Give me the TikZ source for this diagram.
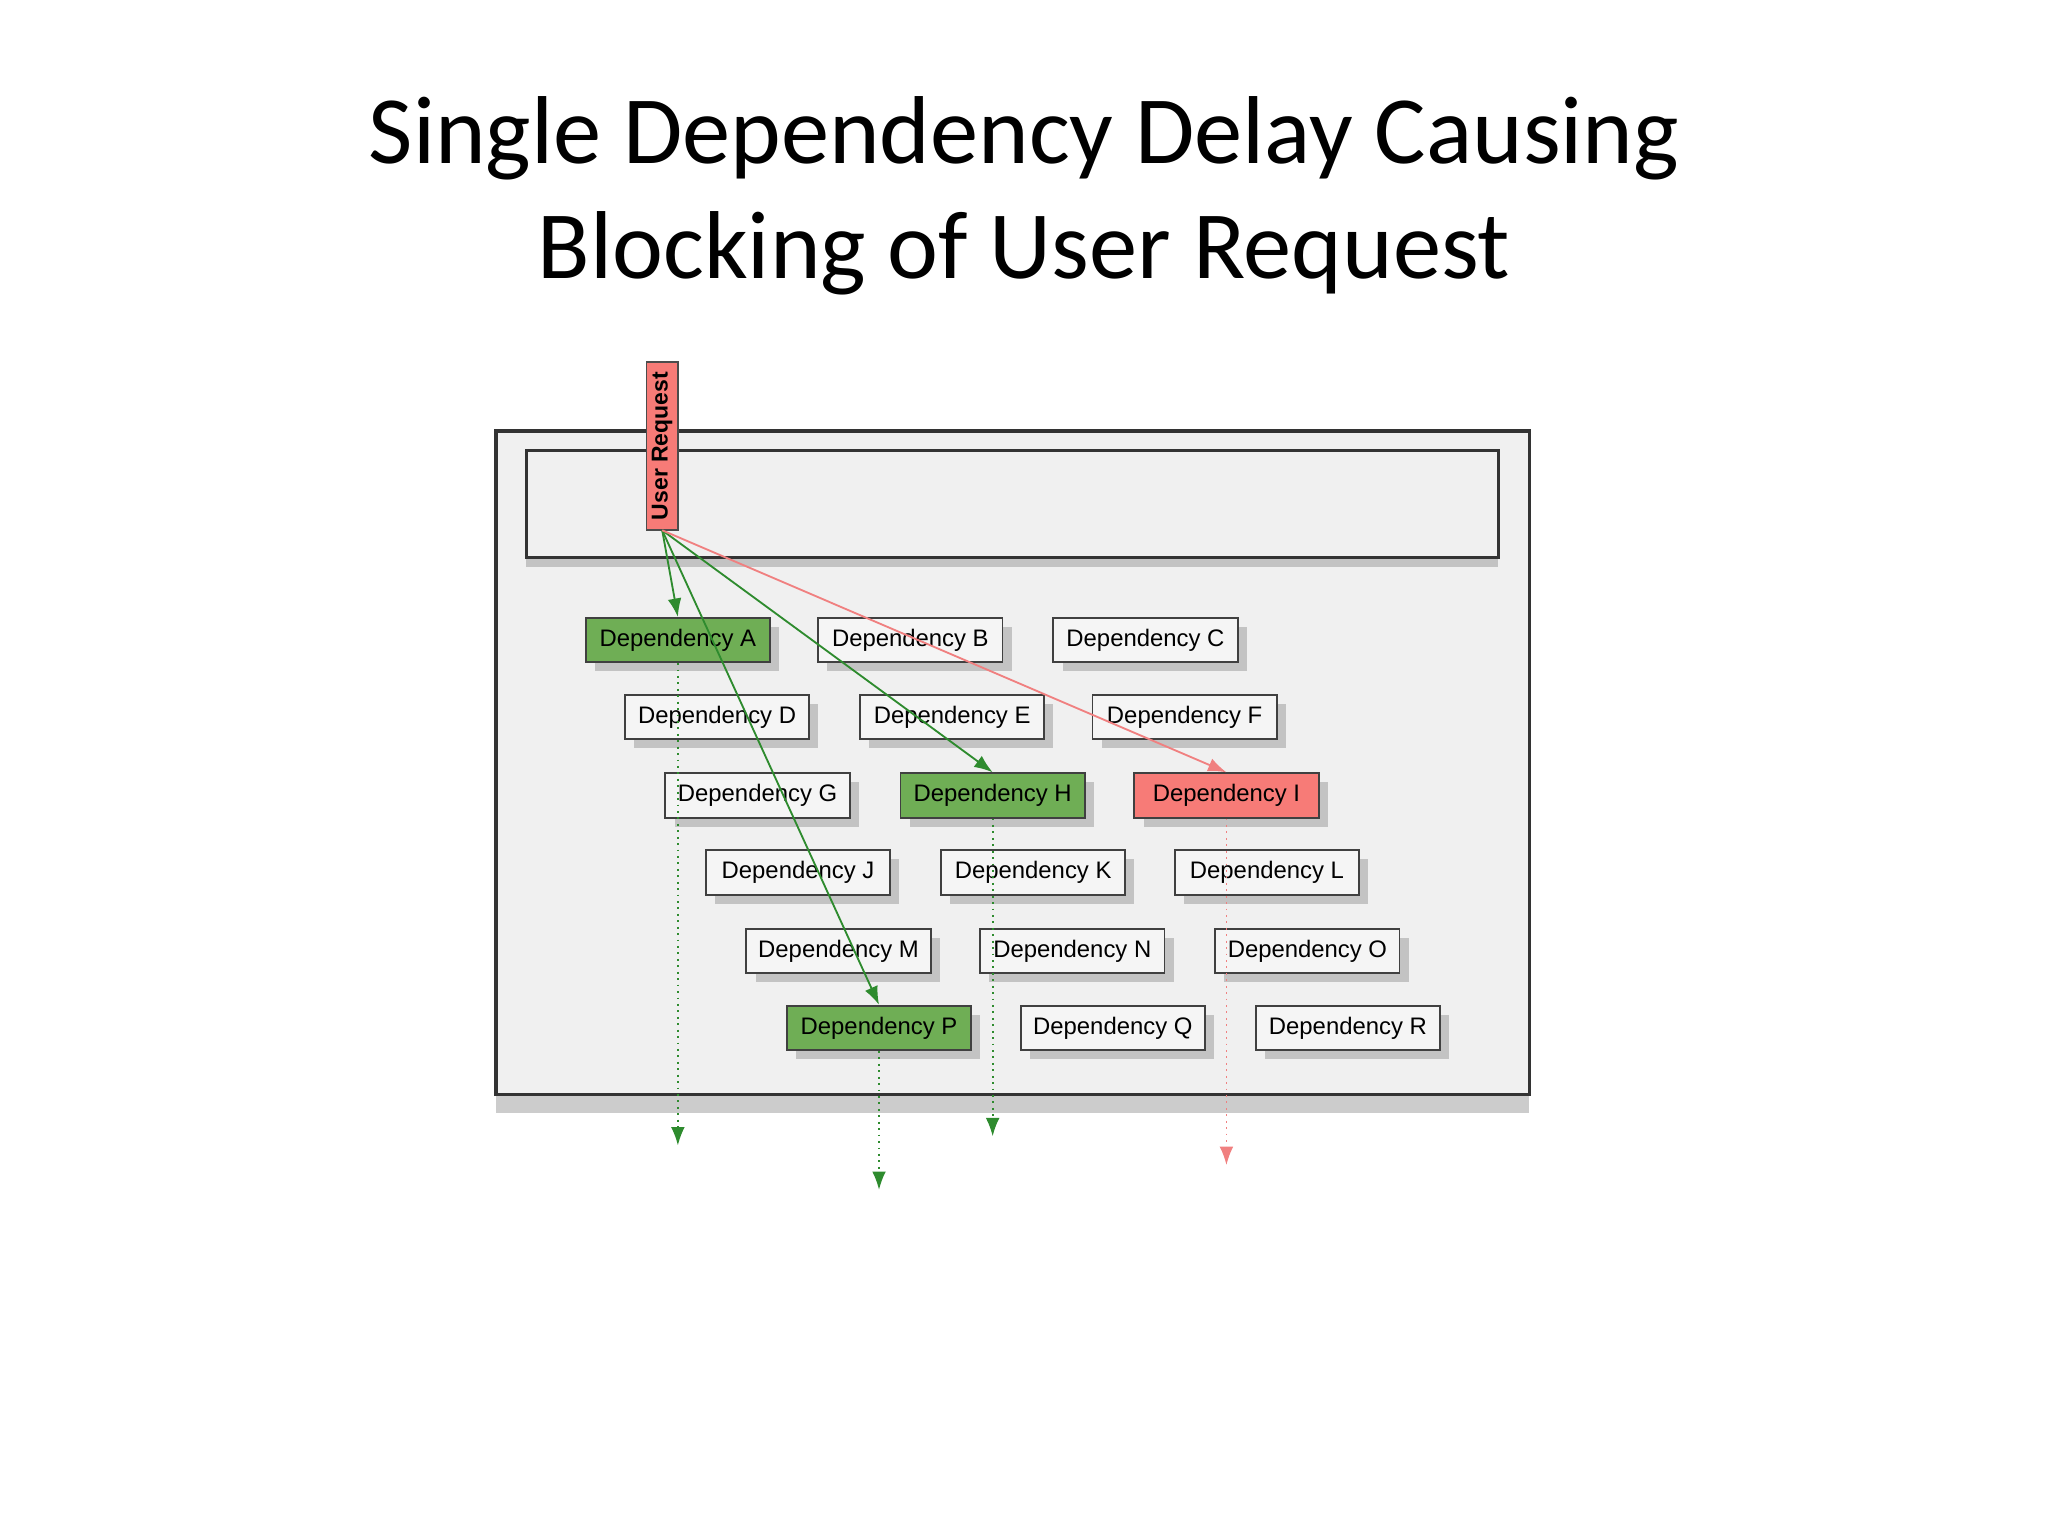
\documentclass[tikz,border=0pt]{standalone}
\usepackage{fontspec}
\setmainfont{Carlito}
\newfontfamily\arial{Liberation Sans}
\usetikzlibrary{arrows.meta,shadows}
\definecolor{gfill}{HTML}{6FAE55}
\definecolor{gline}{HTML}{2E8B2E}
\definecolor{rfill}{HTML}{F77B77}
\definecolor{rline}{HTML}{F08080}
\begin{document}
\begin{tikzpicture}[x=0.01cm,y=-0.01cm,
  dep/.style={draw=black!75,fill=gray!8,minimum width=1.41cm,minimum height=0.34cm,inner sep=0,font=\arial\fontsize{5.2}{6}\selectfont,drop shadow={shadow xshift=2pt,shadow yshift=-2pt,opacity=0.4}},
  gdep/.style={dep,fill=gfill},
  rdep/.style={dep,fill=rfill},
  garr/.style={draw=gline,-{Latex[length=4pt,width=3pt]}},
  rarr/.style={draw=rline,-{Latex[length=4pt,width=3pt]}},
  gdot/.style={garr,densely dotted},
  rdot/.style={rarr,densely dotted}]
\useasboundingbox (0,0) rectangle (1568,1176);
\node[font=\fontsize{21}{25}\selectfont,align=center] (title) at (784,150) {Single Dependency Delay Causing\\Blocking of User Request};
\draw[draw=black!80,fill=gray!12,line width=0.8pt,drop shadow={shadow xshift=0pt,shadow yshift=-4pt,opacity=0.4}] (380,330) rectangle (1171,838);
\draw[draw=black!80,fill=gray!12,line width=0.6pt,drop shadow={shadow xshift=0pt,shadow yshift=-2pt,opacity=0.4}] (403,345) rectangle (1147,427);
\node[draw=black!70,fill=rfill,minimum width=0.24cm,minimum height=1.29cm,inner sep=0] (ur) at (507,341.5) {};
\node[rotate=90,font=\arial\bfseries\fontsize{5}{6}\selectfont] (urt) at (507,341.5) {User Request};
\node[gdep] (A) at (519,490) {Dependency A};
\node[dep] (B) at (697,490) {Dependency B};
\node[dep] (C) at (877,490) {Dependency C};
\node[dep] (D) at (549,549) {Dependency D};
\node[dep] (E) at (729,549) {Dependency E};
\node[dep] (F) at (907,549) {Dependency F};
\node[dep] (G) at (580,609) {Dependency G};
\node[gdep] (H) at (760,609) {Dependency H};
\node[rdep] (I) at (939,609) {Dependency I};
\node[dep] (J) at (611,668) {Dependency J};
\node[dep] (K) at (791,668) {Dependency K};
\node[dep] (L) at (970,668) {Dependency L};
\node[dep] (M) at (642,728) {Dependency M};
\node[dep] (N) at (821,728) {Dependency N};
\node[dep] (O) at (1001,728) {Dependency O};
\node[gdep] (P) at (673,787) {Dependency P};
\node[dep] (Q) at (852,787) {Dependency Q};
\node[dep] (R) at (1032,787) {Dependency R};
\coordinate (o) at (507,406);
\coordinate (ea) at (519,877);
\coordinate (ep) at (673,911);
\coordinate (eh) at (760,870);
\coordinate (ei) at (939,892);
\draw[garr] (o) -- (A.north);
\draw[garr] (o) -- (H.north);
\draw[garr] (o) -- (P.north);
\draw[rarr] (o) -- (I.north);
\draw[gdot] (A.south) -- (ea);
\draw[gdot] (P.south) -- (ep);
\draw[gdot] (H.south) -- (eh);
\draw[rdot] (I.south) -- (ei);
\end{tikzpicture}
\end{document}
